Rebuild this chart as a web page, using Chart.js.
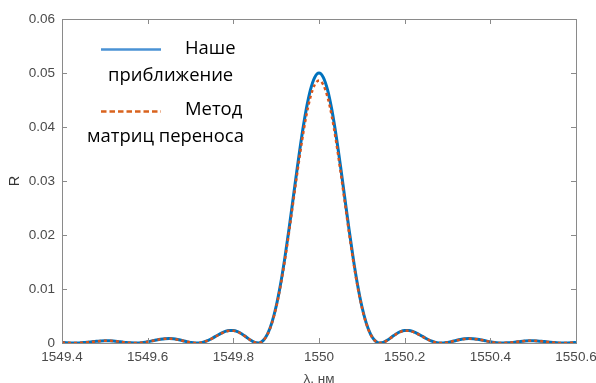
<!DOCTYPE html>
<html><head><meta charset="utf-8">
<script src="https://cdn.jsdelivr.net/npm/chart.js@4/dist/chart.umd.min.js"></script>
<style>html,body{margin:0;padding:0;background:#fff}#wrap{width:596px;height:383px;position:relative}</style>
</head><body><div id="wrap"><canvas id="c" width="596" height="383"></canvas></div>
<script>
const wavelength = [
1549.40,1549.41,1549.42,1549.43,1549.44,1549.45,1549.46,1549.47,1549.48,1549.49,
1549.50,1549.51,1549.52,1549.53,1549.54,1549.55,1549.56,1549.57,1549.58,1549.59,
1549.60,1549.61,1549.62,1549.63,1549.64,1549.65,1549.66,1549.67,1549.68,1549.69,
1549.70,1549.71,1549.72,1549.73,1549.74,1549.75,1549.76,1549.77,1549.78,1549.79,
1549.80,1549.81,1549.82,1549.83,1549.84,1549.85,1549.86,1549.87,1549.88,1549.89,
1549.90,1549.91,1549.92,1549.93,1549.94,1549.95,1549.96,1549.97,1549.98,1549.99,
1550.00,
1550.01,1550.02,1550.03,1550.04,1550.05,1550.06,1550.07,1550.08,1550.09,1550.10,
1550.11,1550.12,1550.13,1550.14,1550.15,1550.16,1550.17,1550.18,1550.19,1550.20,
1550.21,1550.22,1550.23,1550.24,1550.25,1550.26,1550.27,1550.28,1550.29,1550.30,
1550.31,1550.32,1550.33,1550.34,1550.35,1550.36,1550.37,1550.38,1550.39,1550.40,
1550.41,1550.42,1550.43,1550.44,1550.45,1550.46,1550.47,1550.48,1550.49,1550.50,
1550.51,1550.52,1550.53,1550.54,1550.55,1550.56,1550.57,1550.58,1550.59,1550.60];

const ourApprox = [
0.000096,0.000044,0.0000094,0.0000006,0.000022,0.000074,0.000149,0.000234,0.000317,0.000381,
0.000414,0.000409,0.000364,0.000288,0.000194,0.000101,0.000031,0.0000003,0.000023,0.000101,
0.000229,0.000389,0.000556,0.000701,0.000797,0.000823,0.000770,0.000644,0.000467,0.000273,
0.000105,0.0000095,0.000023,0.000169,0.000448,0.000838,0.001291,0.001739,0.002109,0.002326,
0.002336,0.002116,0.001686,0.001120,0.000539,0.000108,0.000023,0.000487,0.001686,0.003765,
0.006802,0.010792,0.015629,0.021120,0.026980,0.032862,0.038385,0.043167,0.046864,0.049201,
0.050000,
0.049201,0.046864,0.043167,0.038385,0.032862,0.026980,0.021120,0.015629,0.010792,0.006802,
0.003765,0.001686,0.000487,0.000023,0.000108,0.000539,0.001120,0.001686,0.002116,0.002336,
0.002326,0.002109,0.001739,0.001291,0.000838,0.000448,0.000169,0.000023,0.0000095,0.000105,
0.000273,0.000467,0.000644,0.000770,0.000823,0.000797,0.000701,0.000556,0.000389,0.000229,
0.000101,0.000023,0.0000003,0.000031,0.000101,0.000194,0.000288,0.000364,0.000409,0.000414,
0.000381,0.000317,0.000234,0.000149,0.000074,0.000022,0.0000006,0.0000094,0.000044,0.000096];

const transferMatrix = [
0.000093,0.000043,0.0000091,0.0000006,0.000021,0.000072,0.000145,0.000227,0.000308,0.000370,
0.000402,0.000398,0.000354,0.000280,0.000189,0.000098,0.000030,0.0000003,0.000022,0.000098,
0.000223,0.000378,0.000540,0.000681,0.000775,0.000800,0.000748,0.000626,0.000454,0.000265,
0.000102,0.0000090,0.000022,0.000164,0.000435,0.000815,0.001255,0.001690,0.002050,0.002261,
0.002271,0.002057,0.001639,0.001089,0.000524,0.000105,0.000022,0.000473,0.001639,0.003660,
0.006612,0.010490,0.015191,0.020529,0.026225,0.031942,0.037310,0.041958,0.045552,0.047823,
0.048600,
0.047823,0.045552,0.041958,0.037310,0.031942,0.026225,0.020529,0.015191,0.010490,0.006612,
0.003660,0.001639,0.000473,0.000022,0.000105,0.000524,0.001089,0.001639,0.002057,0.002271,
0.002261,0.002050,0.001690,0.001255,0.000815,0.000435,0.000164,0.000022,0.0000090,0.000102,
0.000265,0.000454,0.000626,0.000748,0.000800,0.000775,0.000681,0.000540,0.000378,0.000223,
0.000098,0.000022,0.0000003,0.000030,0.000098,0.000189,0.000280,0.000354,0.000398,0.000402,
0.000370,0.000308,0.000227,0.000145,0.000072,0.000021,0.0000006,0.0000091,0.000043,0.000093];

const xTicks = [1549.4, 1549.6, 1549.8, 1550, 1550.2, 1550.4, 1550.6];
const xTickLabels = ['1549.4','1549.6','1549.8','1550','1550.2','1550.4','1550.6'];
const yTicks = [0, 0.01, 0.02, 0.03, 0.04, 0.05, 0.06];
const yTickLabels = ['0','0.01','0.02','0.03','0.04','0.05','0.06'];
const seriesNames = ['Наше приближение', 'Метод матриц переноса'];
const legendLines = [['Наше','приближение'],['Метод','матриц переноса']];
const xTitle = 'λ, нм';
const yTitle = 'R';

const BLUE = '#0072BD', ORANGE = '#D95319';
const AXIS = '#8a8a8a', TXT = '#4a4a4a';
const TICKFONT = '13.5px "Liberation Sans", Arial, sans-serif';

function pts(ys){ return wavelength.map((x,i)=>({x:x,y:ys[i]})); }

const matlabAxes = {
  id:'matlabAxes',
  afterDraw(chart){
    const {ctx, chartArea:a, scales:{x, y}} = chart;
    ctx.save();
    ctx.strokeStyle = AXIS; ctx.lineWidth = 1;
    ctx.strokeRect(Math.round(a.left)+0.5, Math.round(a.top)+0.5, Math.round(a.right-a.left), Math.round(a.bottom-a.top));
    ctx.beginPath();
    const L = 5;
    xTicks.forEach(v=>{
      const px = Math.round(x.getPixelForValue(v))+0.5;
      ctx.moveTo(px, a.bottom); ctx.lineTo(px, a.bottom-L);
      ctx.moveTo(px, a.top); ctx.lineTo(px, a.top+L);
    });
    yTicks.forEach(v=>{
      const py = Math.round(y.getPixelForValue(v))+0.5;
      ctx.moveTo(a.left, py); ctx.lineTo(a.left+L, py);
      ctx.moveTo(a.right, py); ctx.lineTo(a.right-L, py);
    });
    ctx.stroke();
    ctx.fillStyle = TXT; ctx.font = TICKFONT;
    ctx.textAlign='center'; ctx.textBaseline='middle';
    xTicks.forEach((v,i)=>{ ctx.fillText(xTickLabels[i], x.getPixelForValue(v), a.bottom+14); });
    ctx.textAlign='right';
    yTicks.forEach((v,i)=>{ ctx.fillText(yTickLabels[i], a.left-7, y.getPixelForValue(v)); });
    ctx.textAlign='center';
    ctx.fillText(xTitle, (a.left+a.right)/2, a.bottom+36);
    ctx.save();
    ctx.font = '14.5px "Liberation Sans", Arial, sans-serif';
    ctx.fillStyle = '#333';
    ctx.translate(15, (a.top+a.bottom)/2);
    ctx.rotate(-Math.PI/2);
    ctx.fillText(yTitle, 0, 0);
    ctx.restore();
    const fam = '"Open Sans", "Noto Sans", sans-serif';
    let fs = 18;
    ctx.font = fs+'px '+fam;
    const w = ctx.measureText(legendLines[1][1]).width;
    fs = fs*157/w;
    ctx.font = fs.toFixed(2)+'px '+fam;
    ctx.fillStyle = '#000'; ctx.textAlign='left'; ctx.textBaseline='middle';
    ctx.fillText(legendLines[0][0], 185, 49);
    ctx.fillText(legendLines[0][1], 108, 76);
    ctx.fillText(legendLines[1][0], 185, 110);
    ctx.fillText(legendLines[1][1], 87, 137);
    ctx.lineWidth = 2.5; ctx.strokeStyle = '#4a92d4';
    ctx.beginPath(); ctx.moveTo(101,49.5); ctx.lineTo(161,49.5); ctx.stroke();
    ctx.lineWidth = 2.3; ctx.strokeStyle = '#D9631E'; ctx.setLineDash([5.5,3]);
    ctx.beginPath(); ctx.moveTo(101,111.5); ctx.lineTo(161,111.5); ctx.stroke();
    ctx.restore();
  }
};

new Chart(document.getElementById('c'), {
  type:'line',
  data:{ datasets:[
    {label:seriesNames[0], data:pts(ourApprox), order:2, borderColor:BLUE, borderWidth:3, pointRadius:0, cubicInterpolationMode:'monotone', fill:false},
    {label:seriesNames[1], data:pts(transferMatrix), order:1, borderColor:ORANGE, borderWidth:2.5, borderDash:[3,3], pointRadius:0, cubicInterpolationMode:'monotone', fill:false}
  ]},
  options:{
    responsive:false, animation:false, devicePixelRatio:1,
    layout:{padding:{left:0, top:19, right:20, bottom:0}},
    plugins:{legend:{display:false}, tooltip:{enabled:false}},
    scales:{
      x:{type:'linear', min:1549.4, max:1550.6,
         afterBuildTicks(s){ s.ticks = xTicks.map(v=>({value:v})); },
         ticks:{display:false}, grid:{display:false}, border:{display:false},
         afterFit(s){ s.height = 40; }},
      y:{type:'linear', min:0, max:0.06,
         afterBuildTicks(s){ s.ticks = yTicks.map(v=>({value:v})); },
         ticks:{display:false}, grid:{display:false}, border:{display:false},
         afterFit(s){ s.width = 62; }}
    }
  },
  plugins:[matlabAxes]
});
</script>
</body></html>
